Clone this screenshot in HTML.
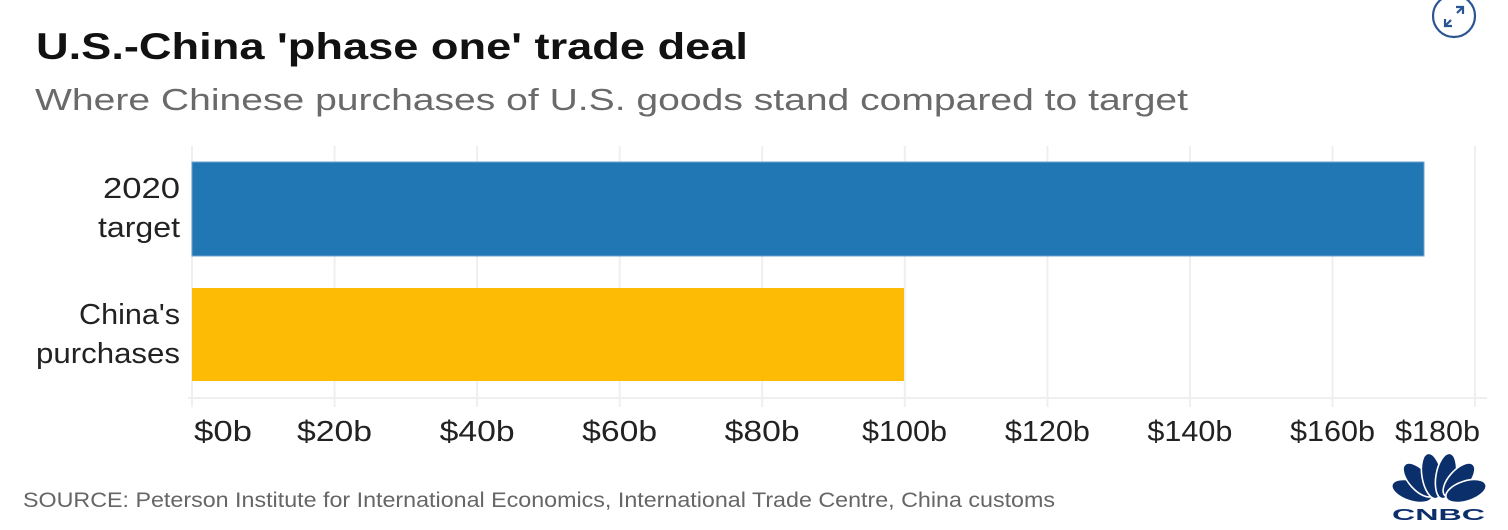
<!DOCTYPE html>
<html>
<head>
<meta charset="utf-8">
<style>
html,body{margin:0;padding:0;background:#fff;}
svg{display:block;}
text{font-family:"Liberation Sans",sans-serif;}
</style>
</head>
<body>
<svg width="1508" height="530" viewBox="0 0 1508 530" xmlns="http://www.w3.org/2000/svg">
<rect width="1508" height="530" fill="#fff"/>
<!-- Title -->
<text x="36" y="59" font-size="37" font-weight="bold" fill="#111" textLength="712" lengthAdjust="spacingAndGlyphs">U.S.-China 'phase one' trade deal</text>
<text x="35" y="110" font-size="31" fill="#6a6a6a" textLength="1153" lengthAdjust="spacingAndGlyphs">Where Chinese purchases of U.S. goods stand compared to target</text>

<!-- expand icon -->
<g fill="none" stroke="#2a5592" stroke-width="2.2">
  <circle cx="1454" cy="16" r="21"/>
  <line x1="1446" y1="25" x2="1451" y2="20"/>
  <line x1="1457" y1="13" x2="1462" y2="8"/>
  <polyline points="1445,19 1445,26 1452,26"/>
  <polyline points="1456,7 1463,7 1463,14"/>
</g>

<!-- gridlines -->
<g stroke="#efefef" stroke-width="2">
  <line x1="192" y1="146" x2="192" y2="407"/>
  <line x1="334.6" y1="146" x2="334.6" y2="407"/>
  <line x1="477.1" y1="146" x2="477.1" y2="407"/>
  <line x1="619.7" y1="146" x2="619.7" y2="407"/>
  <line x1="762.2" y1="146" x2="762.2" y2="407"/>
  <line x1="904.8" y1="146" x2="904.8" y2="407"/>
  <line x1="1047.4" y1="146" x2="1047.4" y2="407"/>
  <line x1="1189.9" y1="146" x2="1189.9" y2="407"/>
  <line x1="1332.5" y1="146" x2="1332.5" y2="407"/>
  <line x1="1475" y1="146" x2="1475" y2="407"/>
  <line x1="188" y1="398" x2="1487" y2="398"/>
</g>

<!-- bars -->
<rect x="192" y="162" width="1232" height="94" fill="#2176b4" stroke="#6aa3cf" stroke-width="1"/>
<rect x="192" y="288" width="712" height="93" fill="#fdbb06"/>

<!-- y labels -->
<g font-size="29" fill="#222">
  <text x="103" y="198" textLength="77" lengthAdjust="spacingAndGlyphs">2020</text>
  <text x="98" y="237" textLength="82" lengthAdjust="spacingAndGlyphs">target</text>
  <text x="79" y="324" textLength="101" lengthAdjust="spacingAndGlyphs">China's</text>
  <text x="36" y="363" textLength="144" lengthAdjust="spacingAndGlyphs">purchases</text>
</g>

<!-- x labels -->
<g font-size="29" fill="#222">
  <text x="194" y="441" textLength="58" lengthAdjust="spacingAndGlyphs">$0b</text>
  <text x="297" y="441" textLength="75" lengthAdjust="spacingAndGlyphs">$20b</text>
  <text x="439.6" y="441" textLength="75" lengthAdjust="spacingAndGlyphs">$40b</text>
  <text x="582.2" y="441" textLength="75" lengthAdjust="spacingAndGlyphs">$60b</text>
  <text x="724.7" y="441" textLength="75" lengthAdjust="spacingAndGlyphs">$80b</text>
  <text x="862" y="441" textLength="85" lengthAdjust="spacingAndGlyphs">$100b</text>
  <text x="1004.9" y="441" textLength="85" lengthAdjust="spacingAndGlyphs">$120b</text>
  <text x="1147.4" y="441" textLength="85" lengthAdjust="spacingAndGlyphs">$140b</text>
  <text x="1290" y="441" textLength="85" lengthAdjust="spacingAndGlyphs">$160b</text>
  <text x="1395" y="441" textLength="85" lengthAdjust="spacingAndGlyphs">$180b</text>
</g>

<!-- source -->
<text x="23" y="507" font-size="21" fill="#666" textLength="1032" lengthAdjust="spacingAndGlyphs">SOURCE: Peterson Institute for International Economics, International Trade Centre, China customs</text>

<!-- CNBC logo -->
<g fill="#0b2f6b" stroke="#fff" stroke-width="1.6">
  <ellipse cx="1412" cy="491" rx="10" ry="21" transform="rotate(-72 1412 491)"/>
  <ellipse cx="1419" cy="480" rx="10" ry="21" transform="rotate(-42 1419 480)"/>
  <ellipse cx="1432" cy="476" rx="10" ry="23" transform="rotate(-10 1432 476)"/>
  <ellipse cx="1446" cy="476" rx="10" ry="23" transform="rotate(10 1446 476)"/>
  <ellipse cx="1459" cy="480" rx="10" ry="21" transform="rotate(42 1459 480)"/>
  <ellipse cx="1466" cy="491" rx="10" ry="21" transform="rotate(72 1466 491)"/>
</g>
<rect x="1388" y="502" width="104" height="5" fill="#fff"/>
<text x="1392" y="520" font-size="16" font-weight="bold" fill="#0b2f6b" textLength="93" lengthAdjust="spacingAndGlyphs">CNBC</text>
</svg>
</body>
</html>
